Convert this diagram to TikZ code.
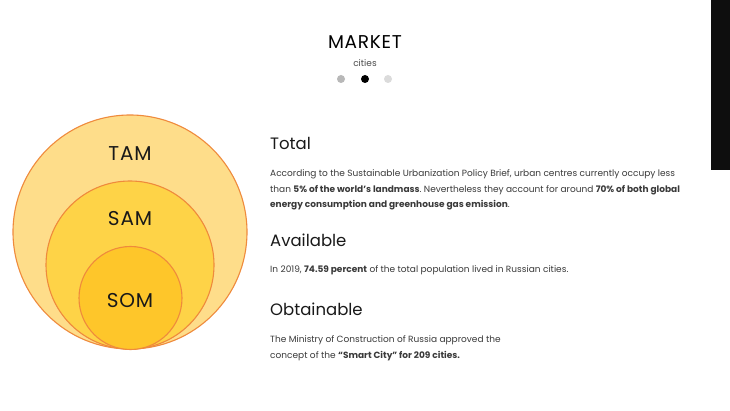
\documentclass[tikz,border=0pt]{standalone}
\usepackage{fontspec}
\setmainfont{Poppins}
\frenchspacing
\definecolor{ringc}{HTML}{EF8A3C}
\definecolor{tamc}{HTML}{FEDD8A}
\definecolor{samc}{HTML}{FED347}
\definecolor{somc}{HTML}{FEC62A}
\definecolor{bodyc}{HTML}{3A3A3A}
\definecolor{barc}{HTML}{0E0E0E}
\begin{document}
\begin{tikzpicture}[x=1pt,y=-1pt,
  ring/.style={draw=ringc,line width=1.1pt},
  clabel/.style={font=\fontsize{20}{20}\selectfont\addfontfeature{LetterSpace=4},text=black!90,anchor=base,inner sep=0pt},
  head/.style={font=\fontsize{16.5}{16.5}\selectfont,text=black!90,anchor=base west,inner sep=0pt},
  body/.style={font=\fontsize{9}{9}\selectfont,text=bodyc,anchor=base west,inner sep=0pt},
  dotc/.style={circle,inner sep=0pt,minimum size=8pt}]
\useasboundingbox (0,0) rectangle (730,411);
\fill[white] (0,0) rectangle (730,411);
\fill[barc] (711,0) rectangle (730,170);
% title
\node[anchor=base,inner sep=0pt,font=\fontsize{18.5}{18.5}\selectfont\addfontfeature{LetterSpace=4}] (title) at (365,49) {MARKET};
\node[anchor=base,inner sep=0pt,font=\fontsize{9}{9}\selectfont,text=black!70] (sub) at (365,67) {cities};
\node[dotc,fill=black!28] (d1) at (341,79) {};
\node[dotc,fill=black] (d2) at (365,79) {};
\node[dotc,fill=black!14] (d3) at (388,79) {};
% circles
\node[ring,circle,fill=tamc,minimum size=234pt,inner sep=0pt] (tam) at (130,232) {};
\node[ring,circle,fill=samc,minimum size=168pt,inner sep=0pt] (sam) at (130,265) {};
\node[ring,circle,fill=somc,minimum size=103pt,inner sep=0pt] (som) at (130.5,298) {};
\node[clabel] (tamt) at (130,161) {TAM};
\node[clabel] (samt) at (130,226) {SAM};
\node[clabel] (somt) at (130,307) {SOM};
% texts
\node[head] (h1) at (270,150) {Total};
\node[body] (b1) at (270,177) {According to the Sustainable Urbanization Policy Brief, urban centres currently occupy less};
\node[body] (b2) at (270,192.5) {than \textbf{5\% of the world’s landmass}. Nevertheless they account for around \textbf{70\% of both global}};
\node[body] (b3) at (270,208) {\textbf{energy consumption and greenhouse gas emission}.};
\node[head] (h2) at (270,247) {Available};
\node[body] (b4) at (270,273) {In 2019, \textbf{74.59 percent} of the total population lived in Russian cities.};
\node[head] (h3) at (270,316) {Obtainable};
\node[body] (b5) at (270,342.5) {The Ministry of Construction of Russia approved the};
\node[body] (b6) at (270,358) {concept of the \textbf{“Smart City” for 209 cities.}};
\end{tikzpicture}
\end{document}
